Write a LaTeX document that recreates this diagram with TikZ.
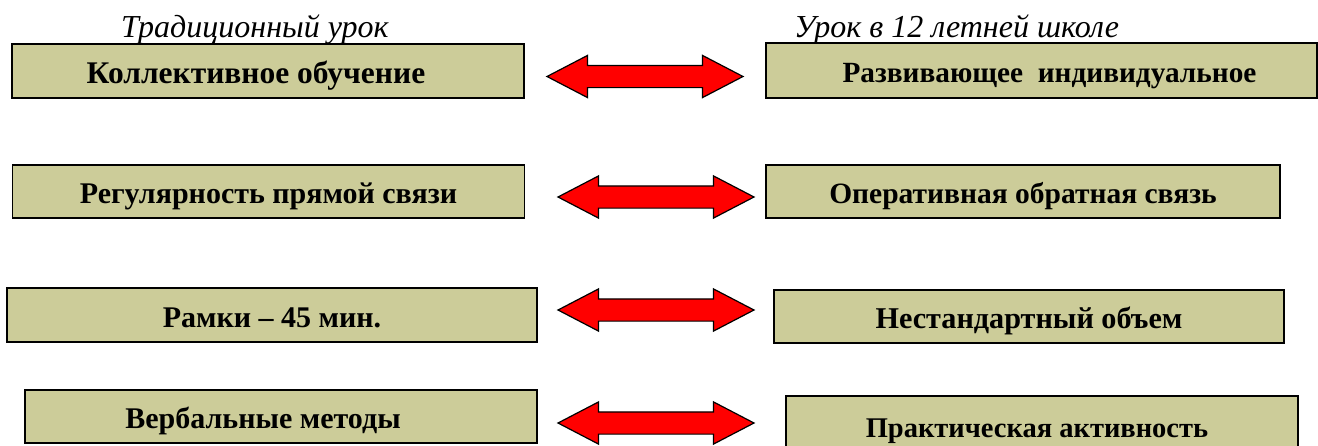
\documentclass[tikz,border=0pt]{standalone}
\usepackage{fontspec}
\setmainfont{Liberation Serif}
\usetikzlibrary{shapes.arrows}
\definecolor{boxkhaki}{RGB}{204,204,153}
\newcommand{\boxfont}[1]{\bfseries\fontsize{#1}{#1}\selectfont}
\begin{document}
\begin{tikzpicture}[x=1pt, y=-1pt,
    lessonbox/.style={draw=black, line width=1.4pt, fill=boxkhaki, inner sep=0pt, text height=24pt, text depth=0pt},
    swaparrow/.style={double arrow, draw=black, line width=1.2pt, fill=red, inner xsep=0pt, inner ysep=10.5pt,
        minimum height=196pt, minimum width=41pt, double arrow head extend=10pt, double arrow tip angle=55},
    coltitle/.style={anchor=base west, inner sep=0pt, font=\itshape\fontsize{32}{36}\selectfont}]
    \useasboundingbox (0,0) rectangle (1318,445);
    % column titles
    \node[coltitle] (tl) at (121,37.5) {Традиционный урок};
    \node[coltitle] (tr) at (794,37.5) {Урок в 12 летней школе};
    % left column
    \node[lessonbox, font=\boxfont{31.5}, minimum width=512pt, minimum height=54pt] (l1) at (268,71) {Коллективное обучение\hspace*{24pt}};
    \node[lessonbox, font=\boxfont{30}, minimum width=512pt, minimum height=53pt] (l2) at (268.5,191.5) {Регулярность прямой связи};
    \node[lessonbox, font=\boxfont{30}, minimum width=530pt, minimum height=54pt] (l3) at (272,315) {Рамки – 45 мин.};
    \node[lessonbox, font=\boxfont{30}, minimum width=512pt, minimum height=53pt] (l4) at (281,416.5) {Вербальные методы\hspace*{36pt}};
    % right column
    \node[lessonbox, font=\boxfont{29.3}, minimum width=551pt, minimum height=55pt] (r1) at (1041.5,70.5) {\hspace*{16pt}Развивающее \ индивидуальное};
    \node[lessonbox, font=\boxfont{29.5}, minimum width=514pt, minimum height=53pt] (r2) at (1023,191.5) {Оперативная обратная связь};
    \node[lessonbox, font=\boxfont{30.2}, minimum width=510pt, minimum height=53pt] (r3) at (1029,316.5) {Нестандартный объем};
    \node[lessonbox, font=\boxfont{28.5}, text height=28pt, minimum width=512pt, minimum height=54pt] (r4) at (1042,423) {Практическая активность\hspace*{10pt}};
    % arrows between the columns
    \node[swaparrow] (a1) at (645,76.5) {};
    \node[swaparrow] (a2) at (656,197) {};
    \node[swaparrow] (a3) at (656,310) {};
    \node[swaparrow] (a4) at (656,423) {};
\end{tikzpicture}
\end{document}
